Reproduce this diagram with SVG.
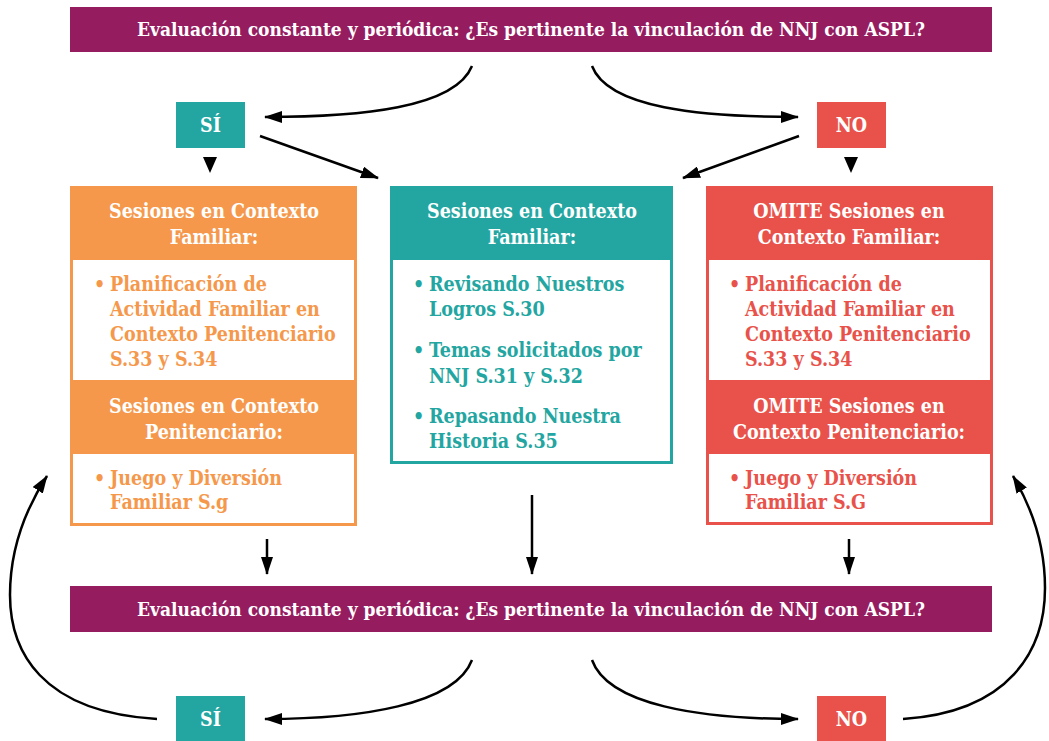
<svg xmlns="http://www.w3.org/2000/svg" width="1049" height="741" viewBox="0 0 1049 741">
<style>
.t{font-family:"DejaVu Serif Condensed","DejaVu Serif",serif;font-weight:bold;font-size:19.5px}
.b{font-size:19px}
.w{fill:#ffffff}
.c{text-anchor:middle}
.or{fill:#F5984B}
.te{fill:#23A6A1}
.re{fill:#E8524A}
.pu{fill:#951C5F}
.ln{fill:none;stroke:#000;stroke-width:2.5;marker-end:url(#ah)}
</style>
<defs>
<marker id="ah" markerUnits="userSpaceOnUse" viewBox="0 0 18 12" refX="17" refY="6" markerWidth="18" markerHeight="12" orient="auto">
<path d="M0,0 L18,6 L0,12 z" fill="#000"/>
</marker>
</defs>
<rect width="1049" height="741" fill="#ffffff"/>

<g id="banner-top">
<rect class="pu" x="70" y="7" width="922" height="45"/>
<text class="t b w c" x="531" y="36">Evaluación constante y periódica: ¿Es pertinente la vinculación de NNJ con ASPL?</text>
</g>

<g id="si-top">
<rect class="te" x="176" y="102" width="69" height="46"/>
<text class="t w c" x="210.5" y="132">SÍ</text>
</g>

<g id="no-top">
<rect class="re" x="817" y="102" width="69" height="46"/>
<text class="t w c" x="851.5" y="132">NO</text>
</g>

<g id="box-orange">
<rect class="or" x="70" y="186" width="287" height="340"/>
<rect class="w" x="73" y="260" width="281" height="120"/>
<rect class="w" x="73" y="454" width="281" height="69"/>
<text class="t w c" x="214" y="218">Sesiones en Contexto</text>
<text class="t w c" x="214" y="244">Familiar:</text>
<g class="t or">
<text x="94" y="291">•</text>
<text x="110" y="291">Planificación de</text>
<text x="110" y="316">Actividad Familiar en</text>
<text x="110" y="341">Contexto Penitenciario</text>
<text x="110" y="366">S.33 y S.34</text>
</g>
<text class="t w c" x="214" y="413">Sesiones en Contexto</text>
<text class="t w c" x="214" y="439">Penitenciario:</text>
<g class="t or">
<text x="94" y="485">•</text>
<text x="110" y="485">Juego y Diversión</text>
<text x="110" y="509">Familiar S.g</text>
</g>
</g>

<g id="box-teal">
<rect class="te" x="390" y="186" width="283" height="278"/>
<rect class="w" x="393" y="260" width="277" height="201"/>
<text class="t w c" x="532" y="218">Sesiones en Contexto</text>
<text class="t w c" x="532" y="244">Familiar:</text>
<g class="t te">
<text x="413" y="291">•</text>
<text x="429" y="291">Revisando Nuestros</text>
<text x="429" y="316">Logros S.30</text>
<text x="413" y="357">•</text>
<text x="429" y="357">Temas solicitados por</text>
<text x="429" y="383">NNJ S.31 y S.32</text>
<text x="413" y="423">•</text>
<text x="429" y="423">Repasando Nuestra</text>
<text x="429" y="448">Historia S.35</text>
</g>
</g>

<g id="box-red">
<rect class="re" x="706" y="186" width="287" height="339"/>
<rect class="w" x="709" y="260" width="281" height="120"/>
<rect class="w" x="709" y="454" width="281" height="68"/>
<text class="t w c" x="849" y="218">OMITE Sesiones en</text>
<text class="t w c" x="849" y="244">Contexto Familiar:</text>
<g class="t re">
<text x="729" y="291">•</text>
<text x="745" y="291">Planificación de</text>
<text x="745" y="316">Actividad Familiar en</text>
<text x="745" y="341">Contexto Penitenciario</text>
<text x="745" y="366">S.33 y S.34</text>
</g>
<text class="t w c" x="849" y="413">OMITE Sesiones en</text>
<text class="t w c" x="849" y="439">Contexto Penitenciario:</text>
<g class="t re">
<text x="729" y="485">•</text>
<text x="745" y="485">Juego y Diversión</text>
<text x="745" y="509">Familiar S.G</text>
</g>
</g>

<g id="banner-bottom">
<rect class="pu" x="70" y="586" width="922" height="46"/>
<text class="t b w c" x="531" y="616">Evaluación constante y periódica: ¿Es pertinente la vinculación de NNJ con ASPL?</text>
</g>

<g id="si-bottom">
<rect class="te" x="176" y="696" width="69" height="46"/>
<text class="t w c" x="210.5" y="726">SÍ</text>
</g>

<g id="no-bottom">
<rect class="re" x="817" y="696" width="69" height="46"/>
<text class="t w c" x="851.5" y="726">NO</text>
</g>

<g id="connectors">
<path class="ln" d="M472,66 C455,108 360,117 265,117"/>
<path class="ln" d="M592,66 C608,108 700,117 798,117"/>
<path class="ln" d="M260,136 L378,178"/>
<path class="ln" d="M799,136 L683,178"/>
<polygon points="203,157 217,157 210,173" fill="#000"/>
<polygon points="844,157 858,157 851,173" fill="#000"/>
<path class="ln" d="M267,539 L267,574"/>
<path class="ln" d="M532,495 L532,574"/>
<path class="ln" d="M849,539 L849,574"/>
<path class="ln" d="M472,660 C455,705 360,719 265,719"/>
<path class="ln" d="M592,660 C608,705 700,719 798,719"/>
<path class="ln" d="M157,719 C40,712 10,650 10,595 C10,550 25,510 47,476"/>
<path class="ln" d="M903,719 C1010,712 1045,650 1045,588 C1045,545 1032,508 1013,476"/>
</g>
</svg>
